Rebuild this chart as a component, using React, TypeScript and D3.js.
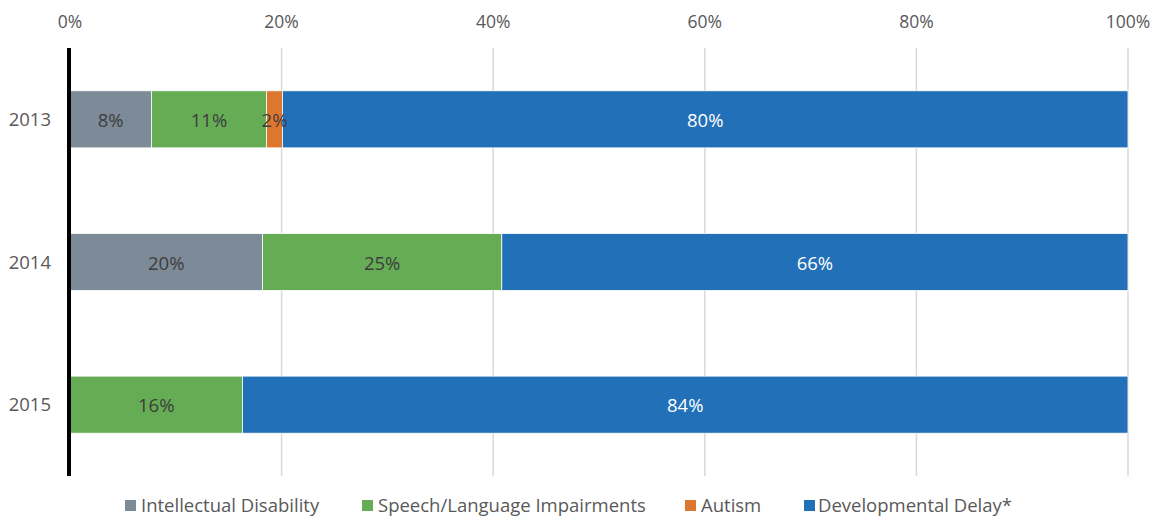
import React, { useEffect, useRef } from "react";
import * as d3 from "d3";

const years = ["2013", "2014", "2015"];
const seriesNames = [
  "Intellectual Disability",
  "Speech/Language Impairments",
  "Autism",
  "Developmental Delay*",
];
const intellectual = [7.7, 20.2, 0];
const speech = [10.9, 25.1, 16.3];
const autism = [1.5, 0, 0];
const developmental = [80.0, 65.7, 83.7];
const colors = ["#7D8A97", "#65AC55", "#DE772E", "#2170B8"];
const ticks = [0, 0.2, 0.4, 0.6, 0.8, 1];

const App = () => {
  const ref = useRef(null);

  useEffect(() => {
    const width = 1157;
    const height = 521;
    const svg = d3.select(ref.current);
    svg.selectAll("*").remove();
    svg.attr("width", width).attr("height", height);

    const rows = years.map((y, i) => ({
      year: y,
      [seriesNames[0]]: intellectual[i],
      [seriesNames[1]]: speech[i],
      [seriesNames[2]]: autism[i],
      [seriesNames[3]]: developmental[i],
    }));

    // 100% stacked
    const stack = d3.stack().keys(seriesNames).offset(d3.stackOffsetExpand);
    const layers = stack(rows);

    const x = d3.scaleLinear().domain([0, 1]).range([70, 1128]);
    const y = d3
      .scaleBand()
      .domain(years)
      .range([48, 476])
      .paddingInner(0.6)
      .paddingOuter(0.3);

    const font = "'Open Sans', sans-serif";

    // gridlines + top tick labels
    svg
      .append("g")
      .selectAll("line")
      .data(ticks)
      .enter()
      .append("line")
      .attr("x1", (d) => x(d))
      .attr("x2", (d) => x(d))
      .attr("y1", 48)
      .attr("y2", 476)
      .attr("stroke", "#d9d9d9")
      .attr("stroke-width", 1.5);

    svg
      .append("g")
      .selectAll("text")
      .data(ticks)
      .enter()
      .append("text")
      .attr("x", (d) => x(d))
      .attr("y", 28)
      .attr("text-anchor", "middle")
      .attr("font-family", font)
      .attr("font-size", 17.5)
      .attr("fill", "#595959")
      .text((d) => d3.format(".0%")(d));

    // bars
    const g = svg
      .selectAll("g.layer")
      .data(layers)
      .enter()
      .append("g")
      .attr("class", "layer")
      .attr("fill", (d, i) => colors[i]);

    g.selectAll("rect")
      .data((d) => d.filter((p) => p[1] - p[0] > 0))
      .enter()
      .append("rect")
      .attr("x", (d) => x(d[0]))
      .attr("width", (d) => x(d[1]) - x(d[0]))
      .attr("y", (d) => y(d.data.year))
      .attr("height", y.bandwidth())
      .attr("stroke", "#ffffff")
      .attr("stroke-width", 0.8);

    // data labels
    layers.forEach((layer, li) => {
      svg
        .append("g")
        .selectAll("text")
        .data(layer.filter((p) => p[1] - p[0] > 0))
        .enter()
        .append("text")
        .attr("x", (d) => (x(d[0]) + x(d[1])) / 2)
        .attr("y", (d) => y(d.data.year) + y.bandwidth() / 2 + 1)
        .attr("dy", "0.36em")
        .attr("text-anchor", "middle")
        .attr("font-family", font)
        .attr("font-size", 18.5)
        .attr("fill", li === 3 ? "#ffffff" : "#3d3d3d")
        .text((d) => Math.round(d.data[layer.key]) + "%");
    });

    // y labels
    svg
      .append("g")
      .selectAll("text")
      .data(years)
      .enter()
      .append("text")
      .attr("x", 51)
      .attr("y", (d) => y(d) + y.bandwidth() / 2)
      .attr("dy", "0.36em")
      .attr("text-anchor", "end")
      .attr("font-family", font)
      .attr("font-size", 18.5)
      .attr("fill", "#595959")
      .text((d) => d);

    // axis line
    svg
      .append("line")
      .attr("x1", 69)
      .attr("x2", 69)
      .attr("y1", 48)
      .attr("y2", 476)
      .attr("stroke", "#000000")
      .attr("stroke-width", 4);

    // legend
    const legendX = [125, 362, 685, 804];
    const leg = svg
      .append("g")
      .selectAll("g")
      .data(seriesNames)
      .enter()
      .append("g")
      .attr("transform", (d, i) => `translate(${legendX[i]},505)`);

    leg
      .append("rect")
      .attr("x", 0)
      .attr("y", -5)
      .attr("width", 11)
      .attr("height", 11)
      .attr("fill", (d, i) => colors[i]);

    leg
      .append("text")
      .attr("x", (d, i) => (i === 3 ? 14 : 16))
      .attr("dy", "0.36em")
      .attr("font-family", font)
      .attr("font-size", 18.5)
      .attr("fill", "#595959")
      .text((d) => d);
  }, []);

  return (
    <svg
      ref={ref}
      style={{ position: "absolute", left: 0, top: 0, display: "block" }}
    />
  );
};

export default App;
